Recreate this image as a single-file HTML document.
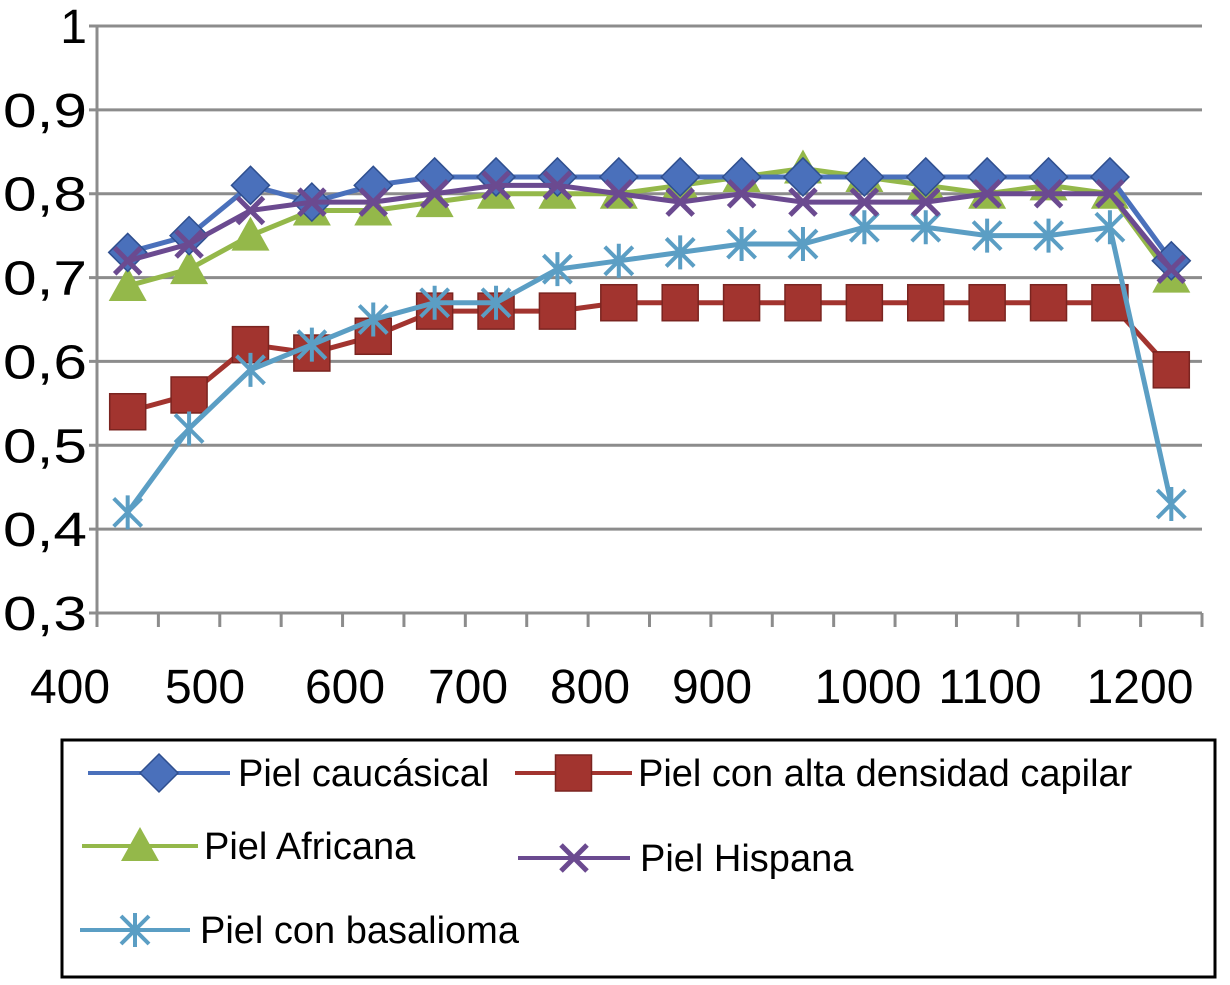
<!DOCTYPE html>
<html><head><meta charset="utf-8"><style>
body{margin:0;background:#fff;width:1230px;height:980px;overflow:hidden;font-family:"Liberation Sans",sans-serif}
</style></head><body>
<svg id="chart" width="1230" height="980" xmlns="http://www.w3.org/2000/svg" font-family="Liberation Sans, sans-serif"></svg>
<script>
const categories=[430,475,525,570,620,665,715,760,810,855,905,950,995,1040,1085,1130,1175,1225];
const caucasica=[.73,.75,.81,.79,.81,.82,.82,.82,.82,.82,.82,.82,.82,.82,.82,.82,.82,.72];
const capilar=[.54,.56,.62,.61,.63,.66,.66,.66,.67,.67,.67,.67,.67,.67,.67,.67,.67,.59];
const africana=[.69,.71,.75,.78,.78,.79,.80,.80,.80,.81,.82,.83,.82,.81,.80,.81,.80,.70];
const hispana=[.72,.74,.78,.79,.79,.80,.81,.81,.80,.79,.80,.79,.79,.79,.80,.80,.80,.71];
const basalioma=[.42,.52,.59,.62,.65,.67,.67,.71,.72,.73,.74,.74,.76,.76,.75,.75,.76,.43];
const yTicks=[0.3,0.4,0.5,0.6,0.7,0.8,0.9,1];
const yTickLabels=["0,3","0,4","0,5","0,6","0,7","0,8","0,9","1"];
const xTickLabels=["400","500","600","700","800","900","1000","1100","1200"];
const xLabelPos=[70,205,345,468,590,712,868,990,1140];

const svg=document.getElementById('chart');
const NS='http://www.w3.org/2000/svg';
const L=97,R=1202,T=26,B=613;
const step=(R-L)/categories.length;
const xs=i=>L+step*(i+0.5);
const ys=v=>B-(v-0.3)/0.7*(B-T);
function mk(t,a,p){const e=document.createElementNS(NS,t);for(const k in a)e.setAttribute(k,a[k]);(p||svg).appendChild(e);return e;}

yTicks.forEach((v,i)=>{
  const g=mk('line',{x1:L-8,x2:R,y1:ys(v),y2:ys(v),stroke:'#8c8c8c','stroke-width':3});
  
  
  const a={x:L-10,y:ys(v)+17,'text-anchor':'end','font-size':48,fill:'#000'};
  if(yTickLabels[i].length>1){a.textLength=84;a.lengthAdjust='spacingAndGlyphs';}
  const t=mk('text',a);
  t.textContent=yTickLabels[i];
  
  
});
const ax=mk('line',{x1:L,x2:L,y1:T,y2:B+8,stroke:'#8c8c8c','stroke-width':3});


for(let i=0;i<=categories.length;i++){
  const tk=mk('line',{x1:L+step*i,x2:L+step*i,y1:B,y2:B+14,stroke:'#8c8c8c','stroke-width':3});
  
  
}
xTickLabels.forEach((s,i)=>{
  const t=mk('text',{x:xLabelPos[i],y:703,'text-anchor':'middle','font-size':48,fill:'#000'});
  t.textContent=s;
  
  
});

function marker(type,x,y,c,g){
  if(type==='diamond') return mk('polygon',{points:`${x},${y-19} ${x+19},${y} ${x},${y+19} ${x-19},${y}`,fill:c,stroke:'#2f4f8f','stroke-width':1.5},g);
  if(type==='square') return mk('rect',{x:x-18,y:y-18,width:36,height:36,fill:c,stroke:'#7a2420','stroke-width':1.5},g);
  if(type==='triangle') return mk('polygon',{points:`${x},${y-19} ${x+19},${y+15} ${x-19},${y+15}`,fill:c},g);
  if(type==='x') return mk('path',{d:`M${x-13},${y-13}L${x+13},${y+13}M${x+13},${y-13}L${x-13},${y+13}`,stroke:c,'stroke-width':5,fill:'none'},g);
  if(type==='star') return mk('path',{d:`M${x-14},${y-14}L${x+14},${y+14}M${x+14},${y-14}L${x-14},${y+14}M${x},${y-17}L${x},${y+17}`,stroke:c,'stroke-width':4,fill:'none'},g);
}
const series=[
 {name:'capilar',data:capilar,c:'#a2342f',m:'square'},
 {name:'basalioma',data:basalioma,c:'#5b9ec4',m:'star'},
 {name:'africana',data:africana,c:'#94b84a',m:'triangle'},
 {name:'caucasica',data:caucasica,c:'#4a70bb',m:'diamond'},
 {name:'hispana',data:hispana,c:'#6b4a90',m:'x'}
];
series.forEach(s=>{
  const g=mk('g',{});
  
  
  const pl=mk('polyline',{points:s.data.map((v,i)=>xs(i)+','+ys(v)).join(' '),fill:'none',stroke:s.c,'stroke-width':5},g);
  
  
  s.data.forEach((v,i)=>{
    const m=marker(s.m,xs(i),ys(v),s.c,g);
    
    
  });
});

const lg=mk('g',{});


const box=mk('rect',{x:62,y:740,width:1153,height:237,fill:'#fff',stroke:'#000','stroke-width':3},lg);


const entries=[
 {t:'Piel caucásical',c:'#4a70bb',m:'diamond',x1:88,x2:230,ty:786,tx:238},
 {t:'Piel con alta densidad capilar',c:'#a2342f',m:'square',x1:515,x2:632,ty:786,tx:638},
 {t:'Piel Africana',c:'#94b84a',m:'triangle',x1:82,x2:198,ty:859,tx:204},
 {t:'Piel Hispana',c:'#6b4a90',m:'x',x1:518,x2:630,ty:871,tx:640},
 {t:'Piel con basalioma',c:'#5b9ec4',m:'star',x1:80,x2:190,ty:943,tx:200}
];
entries.forEach(e=>{
  const g=mk('g',{},lg);
  
  
  const y=e.ty-13;
  mk('line',{x1:e.x1,x2:e.x2,y1:y,y2:y,stroke:e.c,'stroke-width':4},g);
  marker(e.m,(e.x1+e.x2)/2,y,e.c,g);
  const t=mk('text',{x:e.tx,y:e.ty,'font-size':38,fill:'#000'},g);
  t.textContent=e.t;
});
</script>
</body></html>
